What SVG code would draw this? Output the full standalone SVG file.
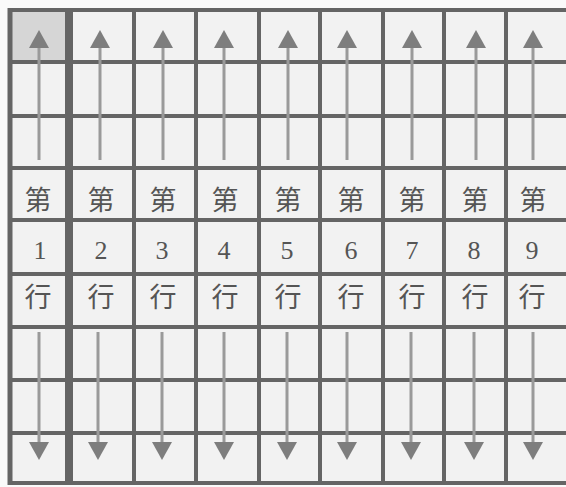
<svg xmlns="http://www.w3.org/2000/svg" width="566" height="487" viewBox="0 0 566 487">
<style>
.bg{fill:#f2f2f2}
.grid line{stroke:#656565;stroke-width:4}
.grid .thick{stroke-width:8}
.arr{stroke:#9a9a9a;stroke-width:3;fill:none}
.cj{font-family:"Noto Sans CJK SC","Noto Sans CJK JP",sans-serif;font-size:27px;fill:#555;text-anchor:middle}
.num{font-family:"Liberation Serif",serif;font-size:26px;fill:#555;text-anchor:middle}
</style>
<defs>
<marker id="head" viewBox="0 0 18 20" refX="0" refY="10" markerWidth="18" markerHeight="20" markerUnits="userSpaceOnUse" orient="auto">
<path d="M0,0 L18,10 L0,20 z" fill="#7e7e7e"/>
</marker>
</defs>
<rect x="0" y="0" width="566" height="487" fill="#fafafa"/>
<rect class="bg" x="10" y="10" width="556" height="473"/>
<rect x="10" y="10" width="58" height="52" fill="#d6d6d6"/>
<g id="grid" class="grid">
<line x1="10" y1="10" x2="566" y2="10"/>
<line x1="10" y1="62" x2="566" y2="62"/>
<line x1="10" y1="116" x2="566" y2="116"/>
<line x1="10" y1="168" x2="566" y2="168"/>
<line x1="10" y1="220" x2="566" y2="220"/>
<line x1="10" y1="274" x2="566" y2="274"/>
<line x1="10" y1="327" x2="566" y2="327"/>
<line x1="10" y1="380" x2="566" y2="380"/>
<line x1="10" y1="433" x2="566" y2="433"/>
<line x1="10" y1="483" x2="566" y2="483"/>
<line x1="10" y1="8" x2="10" y2="485" style="stroke-width:5"/>
<line class="thick" x1="69" y1="8" x2="69" y2="485"/>
<line x1="134" y1="8" x2="134" y2="485"/>
<line x1="196" y1="8" x2="196" y2="485"/>
<line x1="259" y1="8" x2="259" y2="485"/>
<line x1="320" y1="8" x2="320" y2="485"/>
<line x1="383" y1="8" x2="383" y2="485"/>
<line x1="444" y1="8" x2="444" y2="485"/>
<line x1="506" y1="8" x2="506" y2="485"/>
</g>
<g id="connectors">
<line class="arr" x1="39" y1="160" x2="39" y2="48" marker-end="url(#head)"/>
<line class="arr" x1="100" y1="160" x2="100" y2="48" marker-end="url(#head)"/>
<line class="arr" x1="163" y1="160" x2="163" y2="48" marker-end="url(#head)"/>
<line class="arr" x1="224" y1="160" x2="224" y2="48" marker-end="url(#head)"/>
<line class="arr" x1="288" y1="160" x2="288" y2="48" marker-end="url(#head)"/>
<line class="arr" x1="347" y1="160" x2="347" y2="48" marker-end="url(#head)"/>
<line class="arr" x1="412" y1="160" x2="412" y2="48" marker-end="url(#head)"/>
<line class="arr" x1="476" y1="160" x2="476" y2="48" marker-end="url(#head)"/>
<line class="arr" x1="533" y1="160" x2="533" y2="48" marker-end="url(#head)"/>
<line class="arr" x1="39" y1="332" x2="39" y2="442" marker-end="url(#head)"/>
<line class="arr" x1="98" y1="332" x2="98" y2="442" marker-end="url(#head)"/>
<line class="arr" x1="162" y1="332" x2="162" y2="442" marker-end="url(#head)"/>
<line class="arr" x1="224" y1="332" x2="224" y2="442" marker-end="url(#head)"/>
<line class="arr" x1="287" y1="332" x2="287" y2="442" marker-end="url(#head)"/>
<line class="arr" x1="347" y1="332" x2="347" y2="442" marker-end="url(#head)"/>
<line class="arr" x1="411" y1="332" x2="411" y2="442" marker-end="url(#head)"/>
<line class="arr" x1="474" y1="332" x2="474" y2="442" marker-end="url(#head)"/>
<line class="arr" x1="533" y1="332" x2="533" y2="442" marker-end="url(#head)"/>
</g>
<g id="col1"><text class="cj" x="38" y="210">第</text><text class="num" x="40" y="259">1</text><text class="cj" x="38" y="307">行</text></g>
<g id="col2"><text class="cj" x="101" y="210">第</text><text class="num" x="101" y="259">2</text><text class="cj" x="101" y="307">行</text></g>
<g id="col3"><text class="cj" x="163" y="210">第</text><text class="num" x="162" y="259">3</text><text class="cj" x="163" y="307">行</text></g>
<g id="col4"><text class="cj" x="225" y="210">第</text><text class="num" x="224" y="259">4</text><text class="cj" x="225" y="307">行</text></g>
<g id="col5"><text class="cj" x="288" y="210">第</text><text class="num" x="287" y="259">5</text><text class="cj" x="288" y="307">行</text></g>
<g id="col6"><text class="cj" x="351" y="210">第</text><text class="num" x="351" y="259">6</text><text class="cj" x="351" y="307">行</text></g>
<g id="col7"><text class="cj" x="412" y="210">第</text><text class="num" x="412" y="259">7</text><text class="cj" x="412" y="307">行</text></g>
<g id="col8"><text class="cj" x="475" y="210">第</text><text class="num" x="474" y="259">8</text><text class="cj" x="475" y="307">行</text></g>
<g id="col9"><text class="cj" x="533" y="210">第</text><text class="num" x="532" y="259">9</text><text class="cj" x="532" y="307">行</text></g>
</svg>
